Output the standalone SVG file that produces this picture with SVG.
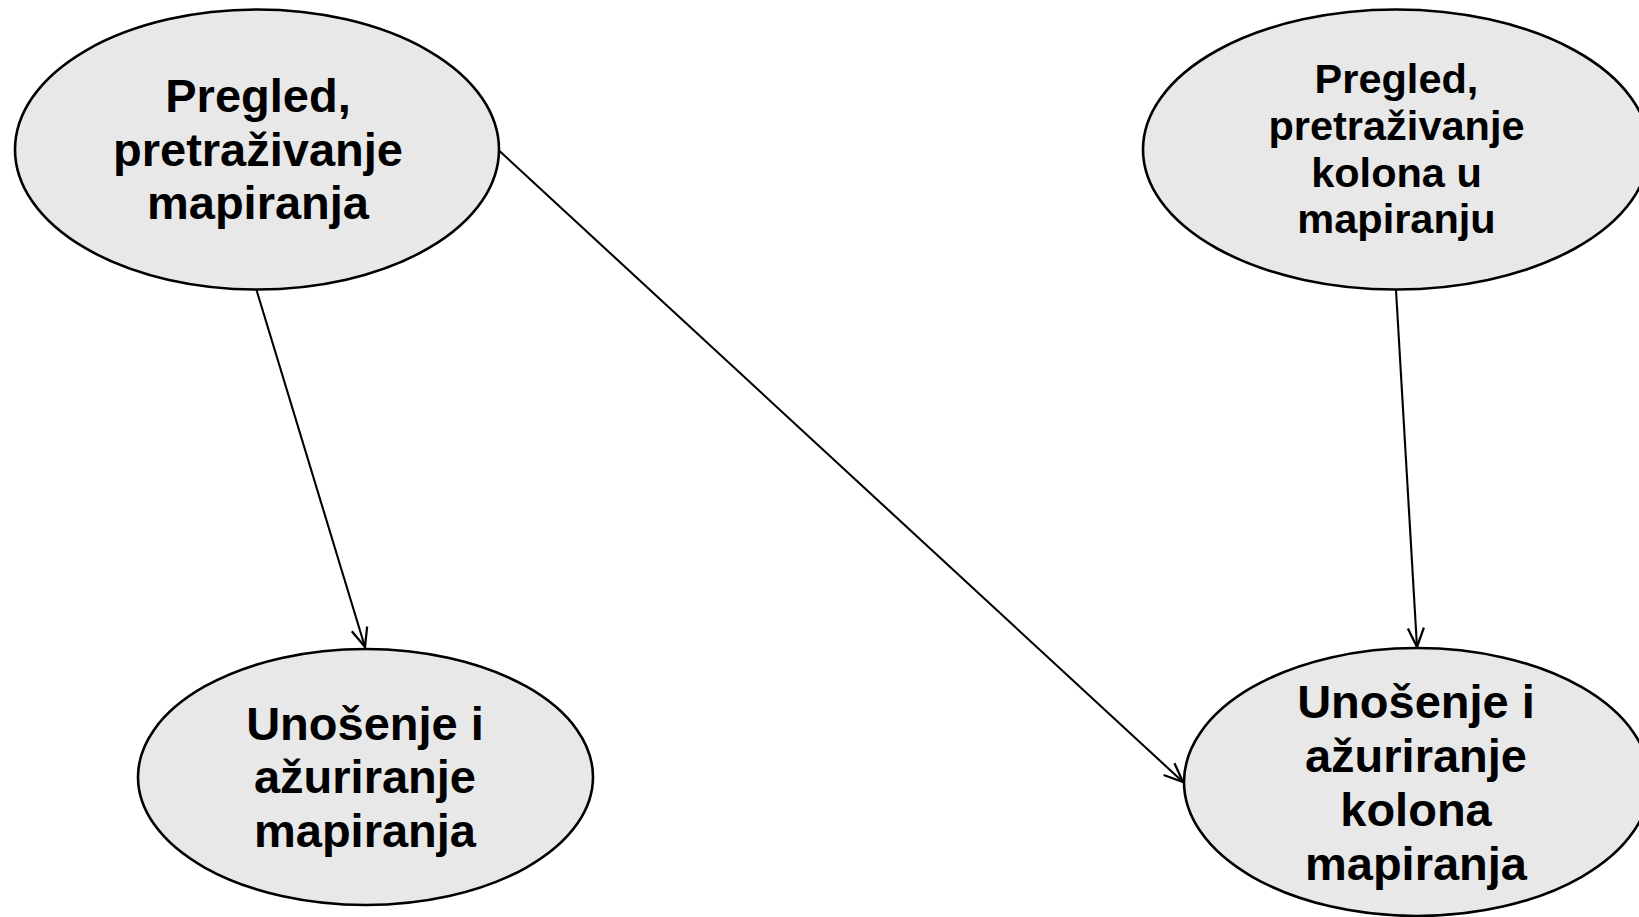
<svg xmlns="http://www.w3.org/2000/svg" width="1639" height="917" viewBox="0 0 1639 917">
<style>
.node ellipse{fill:#e8e8e8;stroke:#000;stroke-width:2.6}
.node text{font-family:"Liberation Sans",Arial,sans-serif;font-weight:bold;fill:#000;text-anchor:middle}
.big{font-size:47px}
.small{font-size:41.5px}
.edge{stroke:#000;stroke-width:2.1;fill:none;marker-end:url(#arr)}
</style>
<defs>
<marker id="arr" markerUnits="userSpaceOnUse" markerWidth="30" markerHeight="30" viewBox="-25 -15 30 30" refX="0" refY="0" orient="auto">
<path d="M-19,-8 L0,0 L-19,8" fill="none" stroke="#000" stroke-width="2.3"/>
</marker>
</defs>
<rect width="1639" height="917" fill="#fff"/>
<g id="connectors">
<line class="edge" x1="256.5" y1="290" x2="365" y2="647"/>
<line class="edge" x1="499.5" y1="151" x2="1183" y2="782"/>
<line class="edge" x1="1396" y1="290" x2="1417" y2="647"/>
</g>
<g id="n1" class="node">
<ellipse cx="257" cy="149.5" rx="242" ry="140"/>
<text class="big" x="258" y="112">Pregled,</text>
<text class="big" x="258" y="166">pretraživanje</text>
<text class="big" x="258" y="219">mapiranja</text>
</g>
<g id="n2" class="node">
<ellipse cx="1396" cy="149.5" rx="253" ry="140"/>
<text class="small" x="1396.5" y="93">Pregled,</text>
<text class="small" x="1396.5" y="140">pretraživanje</text>
<text class="small" x="1396.5" y="187">kolona u</text>
<text class="small" x="1396.5" y="233">mapiranju</text>
</g>
<g id="n3" class="node">
<ellipse cx="365.5" cy="777" rx="227.5" ry="128"/>
<text class="big" x="365" y="740">Unošenje i</text>
<text class="big" x="365" y="793">ažuriranje</text>
<text class="big" x="365" y="847">mapiranja</text>
</g>
<g id="n4" class="node">
<ellipse cx="1417" cy="782" rx="233" ry="134"/>
<text class="big" x="1416" y="718">Unošenje i</text>
<text class="big" x="1416" y="772">ažuriranje</text>
<text class="big" x="1416" y="826">kolona</text>
<text class="big" x="1416" y="880">mapiranja</text>
</g>
</svg>
